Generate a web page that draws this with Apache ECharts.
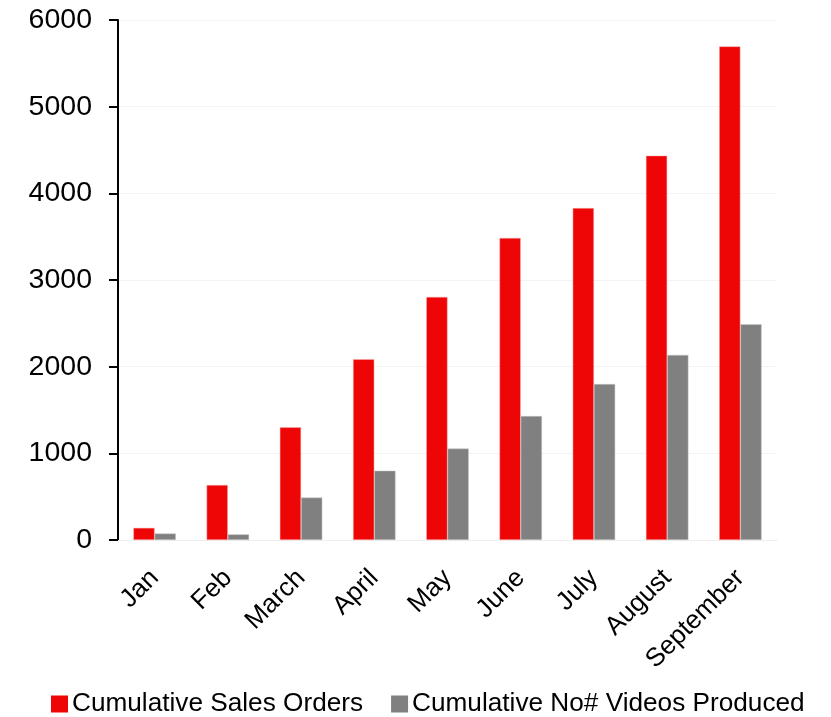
<!DOCTYPE html>
<html>
<head>
<meta charset="utf-8">
<script src="https://cdn.jsdelivr.net/npm/echarts@6/dist/echarts.min.js"></script>
<style>
html,body{margin:0;padding:0;background:#fff;}
#chart{width:831px;height:717px;}
</style>
</head>
<body>
<div id="chart"></div>
<script>
const categories = ["Jan","Feb","March","April","May","June","July","August","September"];
const salesOrders = [140, 635, 1300, 2085, 2805, 3485, 3830, 4435, 5695];
const videosProduced = [75, 65, 490, 800, 1055, 1430, 1800, 2135, 2490];
const seriesNames = ["Cumulative Sales Orders", "Cumulative No# Videos Produced"];
const yTicks = [0, 1000, 2000, 3000, 4000, 5000, 6000];

const font = "'Liberation Sans', Arial, sans-serif";
const chart = echarts.init(document.getElementById('chart'));
chart.setOption({
  animation: false,
  backgroundColor: '#ffffff',
  grid: { left: 118, right: 54, top: 20, bottom: 177, containLabel: false },
  legend: {
    bottom: -5, left: 46,
    itemWidth: 17, itemHeight: 17, itemGap: 28,
    icon: 'rect',
    itemStyle: { borderWidth: 0 },
    textStyle: { fontFamily: font, fontSize: 26.2, color: '#000', padding: [0, 0, 0, -1] },
    data: seriesNames
  },
  xAxis: {
    type: 'category',
    data: categories,
    axisLine: { show: true, lineStyle: { color: '#eeeeee', width: 1 } },
    axisTick: { show: false },
    axisLabel: {
      rotate: 45, interval: 0, margin: 34,
      fontFamily: font, fontSize: 26, color: '#000'
    }
  },
  yAxis: {
    type: 'value',
    min: yTicks[0], max: yTicks[yTicks.length - 1], interval: 1000,
    axisLine: { show: true, lineStyle: { color: '#000', width: 2 } },
    axisTick: { show: true, length: 9, lineStyle: { color: '#000', width: 2 } },
    splitLine: { show: true, lineStyle: { color: '#f3f3f3', width: 1 } },
    axisLabel: {
      fontFamily: font, fontSize: 28.5, color: '#000', margin: 26,
      formatter: function (v) { return String(v); }
    }
  },
  series: [
    {
      name: seriesNames[0], type: 'bar', data: salesOrders,
      barGap: '0%', barCategoryGap: '42%',
      itemStyle: { color: '#ee0505', borderColor: '#f8b0b0', borderWidth: 0.5 }
    },
    {
      name: seriesNames[1], type: 'bar', data: videosProduced,
      itemStyle: { color: '#808080', borderColor: '#c8c8c8', borderWidth: 0.5 }
    }
  ]
});
</script>
</body>
</html>
